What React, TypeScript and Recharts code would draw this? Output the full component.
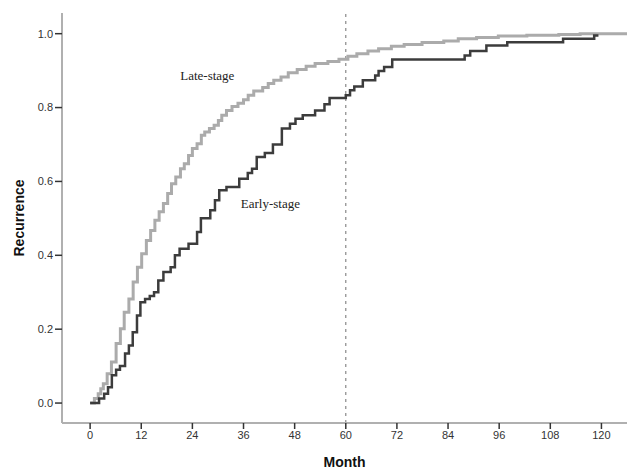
import { LineChart, Line, XAxis, YAxis, ReferenceLine, ReferenceDot } from 'recharts'

// step points (month, cumulative recurrence)
const lateMonths = [0, 1, 1.9, 2.5, 3.1, 4, 5, 6.1, 7.1, 8, 9.1, 10.1, 11.1, 12.1, 13.2, 14.2, 15.2, 16.2, 17.2, 18.2, 19.1, 20.1, 21.2, 22.1, 23.1, 24, 25.1, 26.1, 26.9, 28, 29.1, 30.1, 30.9, 32, 33.3, 34.7, 36, 37.1, 38.4, 40.5, 41.8, 43.1, 44.8, 46.5, 48.6, 50.7, 52.8, 55.8, 58.4, 60.5, 62.6, 65.2, 67.7, 70.7, 73.7, 77.9, 83, 86.4, 90.7, 95.8, 102.5, 110, 115, 126]
const lateValues = [0, 0.012, 0.025, 0.039, 0.052, 0.079, 0.111, 0.161, 0.201, 0.246, 0.282, 0.328, 0.368, 0.404, 0.44, 0.467, 0.495, 0.518, 0.54, 0.567, 0.594, 0.612, 0.634, 0.648, 0.67, 0.689, 0.702, 0.725, 0.734, 0.743, 0.752, 0.765, 0.779, 0.792, 0.803, 0.812, 0.821, 0.833, 0.845, 0.854, 0.865, 0.874, 0.883, 0.894, 0.903, 0.912, 0.919, 0.925, 0.931, 0.939, 0.946, 0.953, 0.959, 0.966, 0.971, 0.976, 0.98, 0.986, 0.99, 0.994, 0.996, 0.998, 1.0, 1.0]

const earlyMonths = [0, 2.1, 3.3, 4.2, 5.1, 6.1, 7, 8.2, 9.1, 10, 11, 11.8, 12.9, 14, 15, 16, 17.2, 18.9, 19.9, 21, 23.1, 25.1, 26, 28.2, 29.3, 30.3, 32, 35, 37, 38, 39.1, 41, 42.9, 45, 46.9, 48.2, 49.9, 52.8, 55, 56.2, 60, 61, 62, 64, 66.9, 67.7, 69, 70.9, 86.8, 87.9, 89.2, 93, 97.9, 111, 118.3, 119.3]
const earlyValues = [0, 0.012, 0.025, 0.043, 0.075, 0.09, 0.1, 0.134, 0.156, 0.192, 0.237, 0.273, 0.282, 0.29, 0.3, 0.332, 0.355, 0.368, 0.4, 0.418, 0.431, 0.463, 0.5, 0.522, 0.549, 0.576, 0.585, 0.607, 0.623, 0.634, 0.666, 0.677, 0.7, 0.743, 0.756, 0.77, 0.779, 0.792, 0.809, 0.826, 0.833, 0.847, 0.857, 0.874, 0.887, 0.899, 0.91, 0.93, 0.93, 0.941, 0.953, 0.968, 0.977, 0.986, 0.995, 0.995]

const monthTicks = [0, 12, 24, 36, 48, 60, 72, 84, 96, 108, 120]
const recurrenceTicks = [0, 0.2, 0.4, 0.6, 0.8, 1.0]

const lateData = lateMonths.map((m, i) => ({ month: m, value: lateValues[i] }))
const earlyData = earlyMonths.map((m, i) => ({ month: m, value: earlyValues[i] }))

const tickStyle = { fontSize: 11, fill: '#333', fontFamily: 'Liberation Sans, Arial, sans-serif' }
const axisLine = { stroke: '#b0b0b0', strokeWidth: 2 }
const tickLine = { stroke: '#333', strokeWidth: 1.5 }
const serifLabel = { fontSize: 13, fill: '#222', fontFamily: 'Liberation Serif, Times New Roman, serif' }

export default function App() {
  return (
    <div style={{ position: 'absolute', left: 0, top: 0, background: '#fff' }}>
      <LineChart width={627} height={470} margin={{ top: 13, right: 0, left: 0, bottom: 0 }}>
        <XAxis
          dataKey="month"
          type="number"
          domain={[-6.6, 126]}
          ticks={monthTicks}
          allowDataOverflow
          height={47}
          tick={tickStyle}
          axisLine={axisLine}
          tickLine={tickLine}
          tickSize={6}
          tickMargin={2}
          label={{ value: 'Month', position: 'insideBottom', offset: 3, style: { fontSize: 14, fontWeight: 'bold', fill: '#111', fontFamily: 'Liberation Sans, Arial, sans-serif' } }}
        />
        <YAxis
          type="number"
          domain={[-0.054, 1.056]}
          ticks={recurrenceTicks}
          allowDataOverflow
          width={62}
          tick={tickStyle}
          tickFormatter={(v: number) => v.toFixed(1)}
          axisLine={axisLine}
          tickLine={tickLine}
          tickSize={7}
          tickMargin={2}
          label={{ value: 'Recurrence', angle: -90, position: 'insideLeft', offset: 19, style: { textAnchor: 'middle', fontSize: 14, fontWeight: 'bold', fill: '#111', fontFamily: 'Liberation Sans, Arial, sans-serif' } }}
        />
        <ReferenceLine x={60} stroke="#888" strokeDasharray="3 4" strokeWidth={1.2} />
        <Line data={lateData} dataKey="value" type="stepAfter" stroke="#ababab" strokeWidth={3} dot={false} isAnimationActive={false} />
        <Line data={earlyData} dataKey="value" type="stepAfter" stroke="#3c3c3c" strokeWidth={2.5} dot={false} isAnimationActive={false} />
        <ReferenceDot x={27.5} y={0.887} r={0} fill="none" stroke="none" label={{ value: 'Late-stage', position: 'center', style: serifLabel }} />
        <ReferenceDot x={42.3} y={0.54} r={0} fill="none" stroke="none" label={{ value: 'Early-stage', position: 'center', style: serifLabel }} />
      </LineChart>
    </div>
  )
}
